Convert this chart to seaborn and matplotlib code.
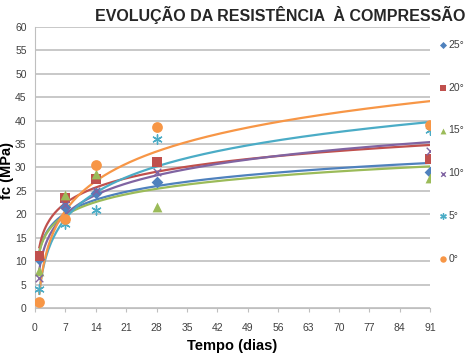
import numpy as np
import pandas as pd
import matplotlib
matplotlib.use('Agg')
import matplotlib.pyplot as plt
import seaborn as sns

dias = [1, 7, 14, 28, 91]
series = ['25°', '20°', '15°', '10°', '5°', '0°']
fc_25 = [10.5, 21.5, 24.5, 26.8, 29.0]
fc_20 = [11.0, 23.5, 27.5, 31.2, 31.7]
fc_15 = [8.0, 24.2, 28.5, 21.5, 27.8]
fc_10 = [6.5, 22.0, 25.0, 29.0, 33.5]
fc_5 = [4.0, 18.0, 21.0, 36.0, 38.0]
fc_0 = [1.2, 19.0, 30.5, 38.7, 39.0]
valores = [fc_25, fc_20, fc_15, fc_10, fc_5, fc_0]

cores = ['#4F81BD', '#C0504D', '#9BBB59', '#8064A2', '#4BACC6', '#F79646']
marcadores = ['D', 's', '^', 'x', (6, 2, 0), 'o']
tamanhos = [36, 55, 50, 30, 45, 60]

df = pd.DataFrame([(s, d, v) for s, vals in zip(series, valores)
                   for d, v in zip(dias, vals)], columns=['serie', 'dia', 'fc'])

# tendencia logaritmica (como no Excel)
xs = np.linspace(1, 91, 300)
linhas = []
for s, vals in zip(series, valores):
    a, b = np.polyfit(np.log(dias), vals, 1)
    linhas += [(s, x, a * np.log(x) + b) for x in xs]
df_tend = pd.DataFrame(linhas, columns=['serie', 'dia', 'fc'])

plt.rcParams['font.family'] = ['Liberation Sans', 'DejaVu Sans']
fig = plt.figure(figsize=(4.76, 3.54), dpi=100)
ax = fig.add_axes([0.0735, 0.13, 0.83, 0.794])

pal = dict(zip(series, cores))
sns.lineplot(data=df_tend, x='dia', y='fc', hue='serie', palette=pal,
             lw=1.6, legend=False, ax=ax, zorder=2)
for s, c, m, t in zip(series, cores, marcadores, tamanhos):
    sub = df[df.serie == s]
    sns.scatterplot(data=sub, x='dia', y='fc', color=c, marker=m, s=t,
                    linewidth=1 if m in ('x', (6, 2, 0)) else 0,
                    label=s, ax=ax, zorder=3)

ax.set_xlim(0, 91)
ax.set_ylim(0, 60)
ax.set_xticks(range(0, 92, 7))
ax.set_yticks(range(0, 61, 5))
ax.yaxis.grid(True, color='#BFBFBF', lw=1.2)
ax.set_axisbelow(True)
for lado in ['top', 'right']:
    ax.spines[lado].set_visible(False)
ax.spines['left'].set_color('#BFBFBF')
ax.spines['bottom'].set_color('#BFBFBF')
ax.tick_params(axis='y', length=0, labelsize=7.5, labelcolor='#404040', pad=6)
ax.tick_params(axis='x', length=3, color='#BFBFBF', labelsize=7.5,
               labelcolor='#404040', pad=8)
ax.set_xlabel('Tempo (dias)', fontsize=10.5, fontweight='bold', labelpad=4)
ax.set_ylabel('fc (MPa)', fontsize=10.5, fontweight='bold')
ax.yaxis.set_label_coords(-0.054, 0.49)

fig.text(0.588, 0.957, 'EVOLUÇÃO DA RESISTÊNCIA  À COMPRESSÃO', ha='center',
         va='center', fontsize=11.5, fontweight='bold', color='#262626')

ax.legend(loc='upper left', bbox_to_anchor=(1.0, 0.98), frameon=False,
          fontsize=7.5, labelspacing=3.15, handletextpad=0.05,
          handlelength=1.0, borderaxespad=0.3, labelcolor='#404040',
          markerscale=0.6)

fig.savefig('out.png', dpi=100)
